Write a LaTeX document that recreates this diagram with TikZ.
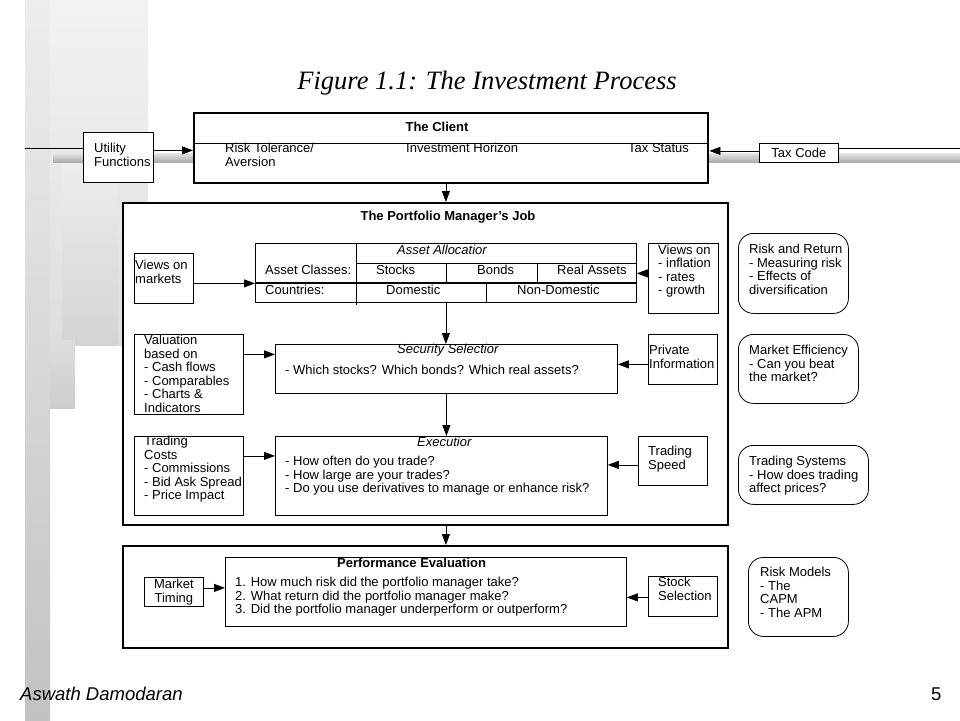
\documentclass[tikz,border=0pt]{standalone}
\usepackage{fontspec}
\setmainfont{Liberation Sans}
\newfontfamily\titlefont{Liberation Serif}
\usetikzlibrary{positioning, arrows.meta}

\begin{document}
\begin{tikzpicture}[x=1pt, y=-1pt,
			box/.style={
				draw,
				line width=0.8pt,
				anchor=north west,
				inner sep=0pt
			},
			bigbox/.style={
				draw,
				line width=2.4pt,
				fill=white,
				anchor=north west,
				inner sep=0pt
			},
			roundbox/.style={
				draw,
				line width=0.8pt,
				rounded corners=15pt,
				anchor=north west,
				inner sep=0pt
			},
			textstyle/.style={
				align=left,
				anchor=north west,
				inner sep=0pt,
				font=\fontsize{13}{13.5}\selectfont
			},
			headstyle/.style={
				inner sep=0pt,
				font=\fontsize{13}{13.5}\selectfont\bfseries
			},
			cellstyle/.style={
				anchor=west,
				inner sep=0pt,
				font=\fontsize{13}{13.5}\selectfont
			},
			flow/.style={
				-{Triangle[length=11pt, width=8pt]},
				line width=0.8pt
			},
			shadowbar/.style={
				top color=gray!20,
				bottom color=gray!65
			}
			]
			
			\useasboundingbox (0,0) rectangle (960,720);
			
			% Slide decoration
			\shade[top color=gray!10, bottom color=gray!26] (25,0) rectangle (148,345);
			\shade[top color=gray!14, bottom color=gray!34] (62,160) rectangle (118,345);
			\shade[top color=gray!26, bottom color=gray!40] (45,340) rectangle (75,408);
			\shade[top color=gray!14, bottom color=gray!48] (25,0) rectangle (50,720);
			\shade[shadowbar] (53,153) rectangle (193,162);
			\shade[shadowbar] (707,153) rectangle (960,162);
			\draw[line width=0.6pt] (25,148) -- (83,148);
			\draw[line width=0.6pt] (838,148) -- (960,148);
			
			% Title
			\node[font=\titlefont\itshape\fontsize{26.5}{30}\selectfont] (title) at (487,83) {Figure 1.1: The Investment Process};
			
			% The client
			\node[bigbox, minimum width=514, minimum height=70] (client) at (193,112) {};
			\draw[line width=0.6pt] (client.west |- 0,143) -- (client.east |- 0,143);
			\node[headstyle] (clienthead) at (437,127) {The Client};
			\node[textstyle] (risktol) at (225,143) {Risk Tolerance/\\Aversion};
			\node[textstyle] (horizon) at (406,143) {Investment Horizon};
			\node[textstyle] (taxstatus) at (628,143) {Tax Status};
			
			\node[box, fill=white, minimum width=70, minimum height=50] (utility) at (83,132) {};
			\node[textstyle, below right=11pt and 11pt of utility.north west] (utilitytext) {Utility\\Functions};
			\node[box, fill=white, minimum width=79, minimum height=19, font=\fontsize{13}{13.5}\selectfont] (taxcode) at (759,143) {Tax Code};
			
			\draw[flow] ([yshift=7pt]utility.east) -- ([yshift=7pt]utility.east -| client.west);
			\draw[flow] ([yshift=2pt]taxcode.west) -- ([yshift=2pt]taxcode.west -| client.east);
			
			% The portfolio manager's job
			\node[bigbox, minimum width=605, minimum height=322] (pmjob) at (122,202) {};
			\node[headstyle] (pmhead) at (448,217) {The Portfolio Manager’s Job};
			
			% Asset allocation table
			\node[box, minimum width=381, minimum height=59] (alloc) at (255,243) {};
			\draw[line width=0.8pt] (356,243) -- (356,305);
			\draw[line width=0.8pt] (356,263) -- (636,263);
			\draw[line width=1.4pt] (255,283) -- (636,283);
			\draw[line width=0.8pt] (446,263) -- (446,283);
			\draw[line width=0.8pt] (537,263) -- (537,283);
			\draw[line width=0.8pt] (486,283) -- (486,302);
			\node[cellstyle, font=\fontsize{13}{13.5}\selectfont\itshape] (allochead) at (397,250) {Asset Allocatior};
			\node[cellstyle] (classes) at (265,270) {Asset Classes:};
			\node[cellstyle] (countries) at (265,290) {Countries:};
			\node[cellstyle] (stocks) at (376,270) {Stocks};
			\node[cellstyle] (bonds) at (477,270) {Bonds};
			\node[cellstyle] (realassets) at (557,270) {Real Assets};
			\node[cellstyle] (domestic) at (386,290) {Domestic};
			\node[cellstyle] (nondomestic) at (517,290) {Non-Domestic};
			
			\node[box, minimum width=59, minimum height=50] (viewsmkt) at (134,253) {};
			\node[textstyle, below right=7pt and 1pt of viewsmkt.north west] (viewsmkttext) {Views on\\markets};
			\node[box, minimum width=70, minimum height=70] (viewsinf) at (648,243) {};
			\node[textstyle, below right=1.5pt and 10pt of viewsinf.north west] (viewsinftext) {Views on\\- inflation\\- rates\\- growth};
			
			\draw[flow] ([yshift=-5pt]viewsmkt.east) -- ([yshift=-5pt]viewsmkt.east -| alloc.west);
			\draw[flow] ([yshift=5pt]viewsinf.west) -- ([yshift=5pt]viewsinf.west -| alloc.east);
			
			% Security selection
			\node[box, minimum width=342, minimum height=49] (secsel) at (275,344) {};
			\node[cellstyle, font=\fontsize{13}{13.5}\selectfont\itshape] (secselhead) at (397,350) {Security Selectior};
			\node[cellstyle] (secseltext) at (285,370) {- Which stocks? Which bonds? Which real assets?};
			
			\node[box, minimum width=109, minimum height=80] (valuation) at (134,334) {};
			\node[textstyle, below right=1pt and 10pt of valuation.north west] (valuationtext) {Valuation\\based on\\- Cash flows\\- Comparables\\- Charts \&\\Indicators};
			\node[box, minimum width=69, minimum height=50] (privinfo) at (648,334) {};
			\node[textstyle, below right=11pt and 1pt of privinfo.north west] (privinfotext) {Private\\Information};
			
			\draw[flow] (alloc.south) -- (alloc.south |- secsel.north);
			\draw[flow] ([yshift=20pt]valuation.east) -- ([yshift=20pt]valuation.east -| secsel.west);
			\draw[flow] ([yshift=-5pt]privinfo.west) -- ([yshift=-5pt]privinfo.west -| secsel.east);
			
			% Execution
			\node[box, minimum width=332, minimum height=79] (execution) at (275,436) {};
			\node[cellstyle, font=\fontsize{13}{13.5}\selectfont\itshape] (executionhead) at (417,442) {Executior};
			\node[textstyle] (executiontext) at (285,456) {- How often do you trade?\\- How large are your trades?\\- Do you use derivatives to manage or enhance risk?};
			
			\node[box, minimum width=109, minimum height=79] (tradecost) at (134,436) {};
			\node[textstyle, below right=0pt and 10pt of tradecost.north west] (tradecosttext) {Trading\\Costs\\- Commissions\\- Bid Ask Spread\\- Price Impact};
			\node[box, minimum width=69, minimum height=49] (tradespeed) at (638,436) {};
			\node[textstyle, below right=10pt and 10pt of tradespeed.north west] (tradespeedtext) {Trading\\Speed};
			
			\draw[flow] (secsel.south) -- (secsel.south |- execution.north);
			\draw[flow] ([yshift=20pt]tradecost.east) -- ([yshift=20pt]tradecost.east -| execution.west);
			\draw[flow] ([yshift=-4pt]tradespeed.west) -- ([yshift=-4pt]tradespeed.west -| execution.east);
			
			% Performance evaluation
			\node[bigbox, minimum width=605, minimum height=102] (perf) at (122,545) {};
			\node[box, minimum width=401, minimum height=69] (perfeval) at (225,557) {};
			\node[cellstyle, font=\fontsize{13}{13.5}\selectfont\bfseries] (perfhead) at (337,563) {Performance Evaluation};
			\node[textstyle] (perftext) at (235,577) {1. How much risk did the portfolio manager take?\\2. What return did the portfolio manager make?\\3. Did the portfolio manager underperform or outperform?};
			
			\node[box, minimum width=59, minimum height=29] (mkttiming) at (144,577) {};
			\node[textstyle, align=center, anchor=center] (mkttimingtext) at (mkttiming.center) {Market\\Timing};
			\node[box, minimum width=69, minimum height=40] (stocksel) at (648,576) {};
			\node[textstyle, below right=1pt and 10pt of stocksel.north west] (stockseltext) {Stock\\Selection};
			
			\draw[flow] ([yshift=4pt]mkttiming.east) -- ([yshift=4pt]mkttiming.east -| perfeval.west);
			\draw[flow] ([yshift=-1pt]stocksel.west) -- ([yshift=-1pt]stocksel.west -| perfeval.east);
			
			% Links between the big boxes
			\draw[flow] (alloc.north |- client.south) -- (alloc.north |- pmjob.north);
			\draw[flow] (alloc.south |- pmjob.south) -- (alloc.south |- perf.north);
			
			% Theory boxes on the right
			\node[roundbox, minimum width=110, minimum height=80] (riskret) at (738,233) {};
			\node[textstyle, below right=11pt and 11pt of riskret.north west] (riskrettext) {Risk and Return\\- Measuring risk\\- Effects of\\diversification};
			\node[roundbox, minimum width=120, minimum height=69] (mkteff) at (738,334) {};
			\node[textstyle, below right=11pt and 11pt of mkteff.north west] (mktefftext) {Market Efficiency\\- Can you beat\\the market?};
			\node[roundbox, minimum width=130, minimum height=59] (tradesys) at (738,445) {};
			\node[textstyle, below right=11pt and 11pt of tradesys.north west] (tradesystext) {Trading Systems\\- How does trading\\affect prices?};
			\node[roundbox, minimum width=100, minimum height=79] (riskmodels) at (748,557) {};
			\node[textstyle, below right=10pt and 12pt of riskmodels.north west] (riskmodelstext) {Risk Models\\- The\\CAPM\\- The APM};
			
			% Footer
			\node[anchor=west, inner sep=0pt, font=\itshape\fontsize{18.5}{20}\selectfont] (author) at (20,694) {Aswath Damodaran};
			\node[anchor=west, inner sep=0pt, font=\fontsize{18.5}{20}\selectfont] (pagenum) at (931,694) {5};
			
		\end{tikzpicture}
\end{document}
